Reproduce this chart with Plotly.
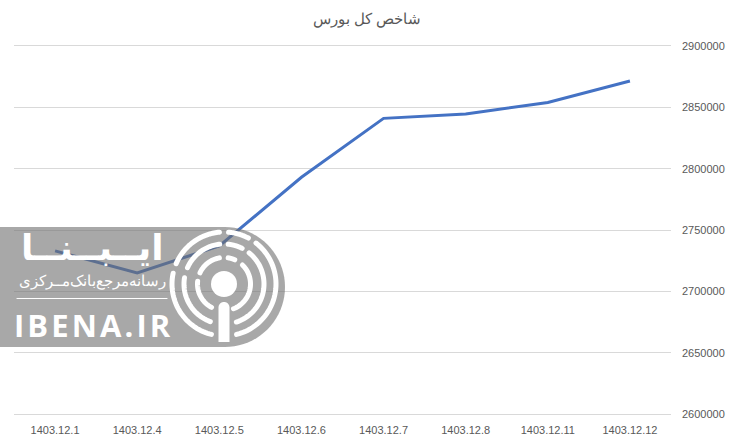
import math
import plotly.graph_objects as go

categories = ["1403.12.1", "1403.12.4", "1403.12.5", "1403.12.6", "1403.12.7", "1403.12.8", "1403.12.11", "1403.12.12"]
index_values = [2733000, 2715000, 2737000, 2793000, 2841000, 2844500, 2854000, 2871500]

W, H = 734, 436
L, R, T, B = 14, 671, 46, 414

def px(x): return (x - L) / (R - L)
def py(y): return (B - y) / (B - T)
def P(x, y): return f"{px(x):.5f} {py(y):.5f}"

def arc(cx, cy, r, a0, a1, n=40):
    pts = []
    for i in range(n + 1):
        a = math.radians(a0 + (a1 - a0) * i / n)
        pts.append((cx + r * math.cos(a), cy + r * math.sin(a)))
    return "M" + " L".join(P(*p) for p in pts)

CX, CY = 224, 284
shapes = []
d = ["M" + P(0, 227), "L" + P(225, 227)]
for i in range(0, 41):
    a = math.radians(-90 + 180 * i / 40)
    d.append("L" + P(225 + 60 * math.cos(a), 287 + 60 * math.sin(a)))
d += ["L" + P(0, 347), "Z"]
shapes.append(dict(type="path", xref="paper", yref="paper", path=" ".join(d),
                   fillcolor="rgba(110,110,110,0.6)", line_width=0))

rings = [(26.5, 118, 186), (26.5, 205, 260), (26.5, 279, 294), (26.5, 314, 429),
         (40, 110, 189), (40, 204, 264), (40, 276, 297), (40, 309, 432),
         (52, 104, 192), (52, 203, 265), (52, 275, 298), (52, 308, 436)]
for r, a0, a1 in rings:
    shapes.append(dict(type="path", xref="paper", yref="paper", path=arc(CX, CY, r, a0, a1),
                       line=dict(color="white", width=5)))
shapes.append(dict(type="circle", xref="paper", yref="paper", x0=px(CX - 13), x1=px(CX + 13),
                   y0=py(CY + 13), y1=py(CY - 13), fillcolor="white", line_width=0))
stem = ["M" + P(218.5, 342), "L" + P(218.5, 307.5)]
for i in range(1, 21):
    a = math.radians(180 + 180 * i / 20)
    stem.append("L" + P(224 + 5.5 * math.cos(a), 307.5 + 5.5 * math.sin(a)))
stem += ["L" + P(229.5, 342), "Z"]
shapes.append(dict(type="path", xref="paper", yref="paper", path=" ".join(stem), fillcolor="white", line_width=0))
shapes.append(dict(type="line", xref="paper", yref="paper", x0=px(17), x1=px(167), y0=py(298.5), y1=py(298.5),
                   line=dict(color="white", width=1.2)))

def note(text, x, y, size, color="white", font="Liberation Sans", anchor="center"):
    return dict(text=text, xref="paper", yref="paper", x=px(x), y=py(y), xanchor=anchor, yanchor="middle",
                showarrow=False, font=dict(size=size, color=color, family=font))

annotations = [
    note("<b>ایــبــنــا</b>", 92, 247, 36, font="DejaVu Sans"),
    note("رسانه‌مرجع‌بانک‌مــرکزی", 92, 280, 15, font="Noto Sans"),
    note("<b>I\u200aB\u200aE\u200aN\u200aA\u200a.\u200aI\u200aR</b>", 92, 325, 31, font="Open Sans"),
]

fig = go.Figure(go.Scatter(x=categories, y=index_values, mode="lines",
                           line=dict(color="#4472C4", width=3), hoverinfo="skip"))
fig.update_layout(
    width=W, height=H, autosize=False,
    margin=dict(l=L, r=W - R, t=T, b=H - B),
    paper_bgcolor="white", plot_bgcolor="white", showlegend=False,
    title=dict(text="شاخص کل بورس", x=0.5, xanchor="center", xref="container", y=0.956, yanchor="middle",
               font=dict(size=15, color="#595959", family="Liberation Sans")),
    shapes=shapes, annotations=annotations,
    xaxis=dict(type="category", range=[-0.5, 7.5], showgrid=False, zeroline=False, automargin=False,
               showline=True, linecolor="#D9D9D9", linewidth=1, mirror=True, ticks="", ticklabelstandoff=6,
               tickfont=dict(size=11, color="#595959", family="Liberation Sans")),
    yaxis=dict(side="right", range=[2600000, 2900000], dtick=50000, tickformat="d", showline=False,
               automargin=False, gridcolor="#D9D9D9", gridwidth=1, zeroline=False, ticks="", ticklabelstandoff=10,
               tickfont=dict(size=11, color="#595959", family="Liberation Sans")),
)
post = """
document.documentElement.style.margin='0';document.body.style.margin='0';
document.querySelectorAll('.shapelayer path').forEach(function(p){p.style.strokeLinecap='round';});
"""
fig.write_html("out.html", post_script=post, config=dict(displayModeBar=False))
